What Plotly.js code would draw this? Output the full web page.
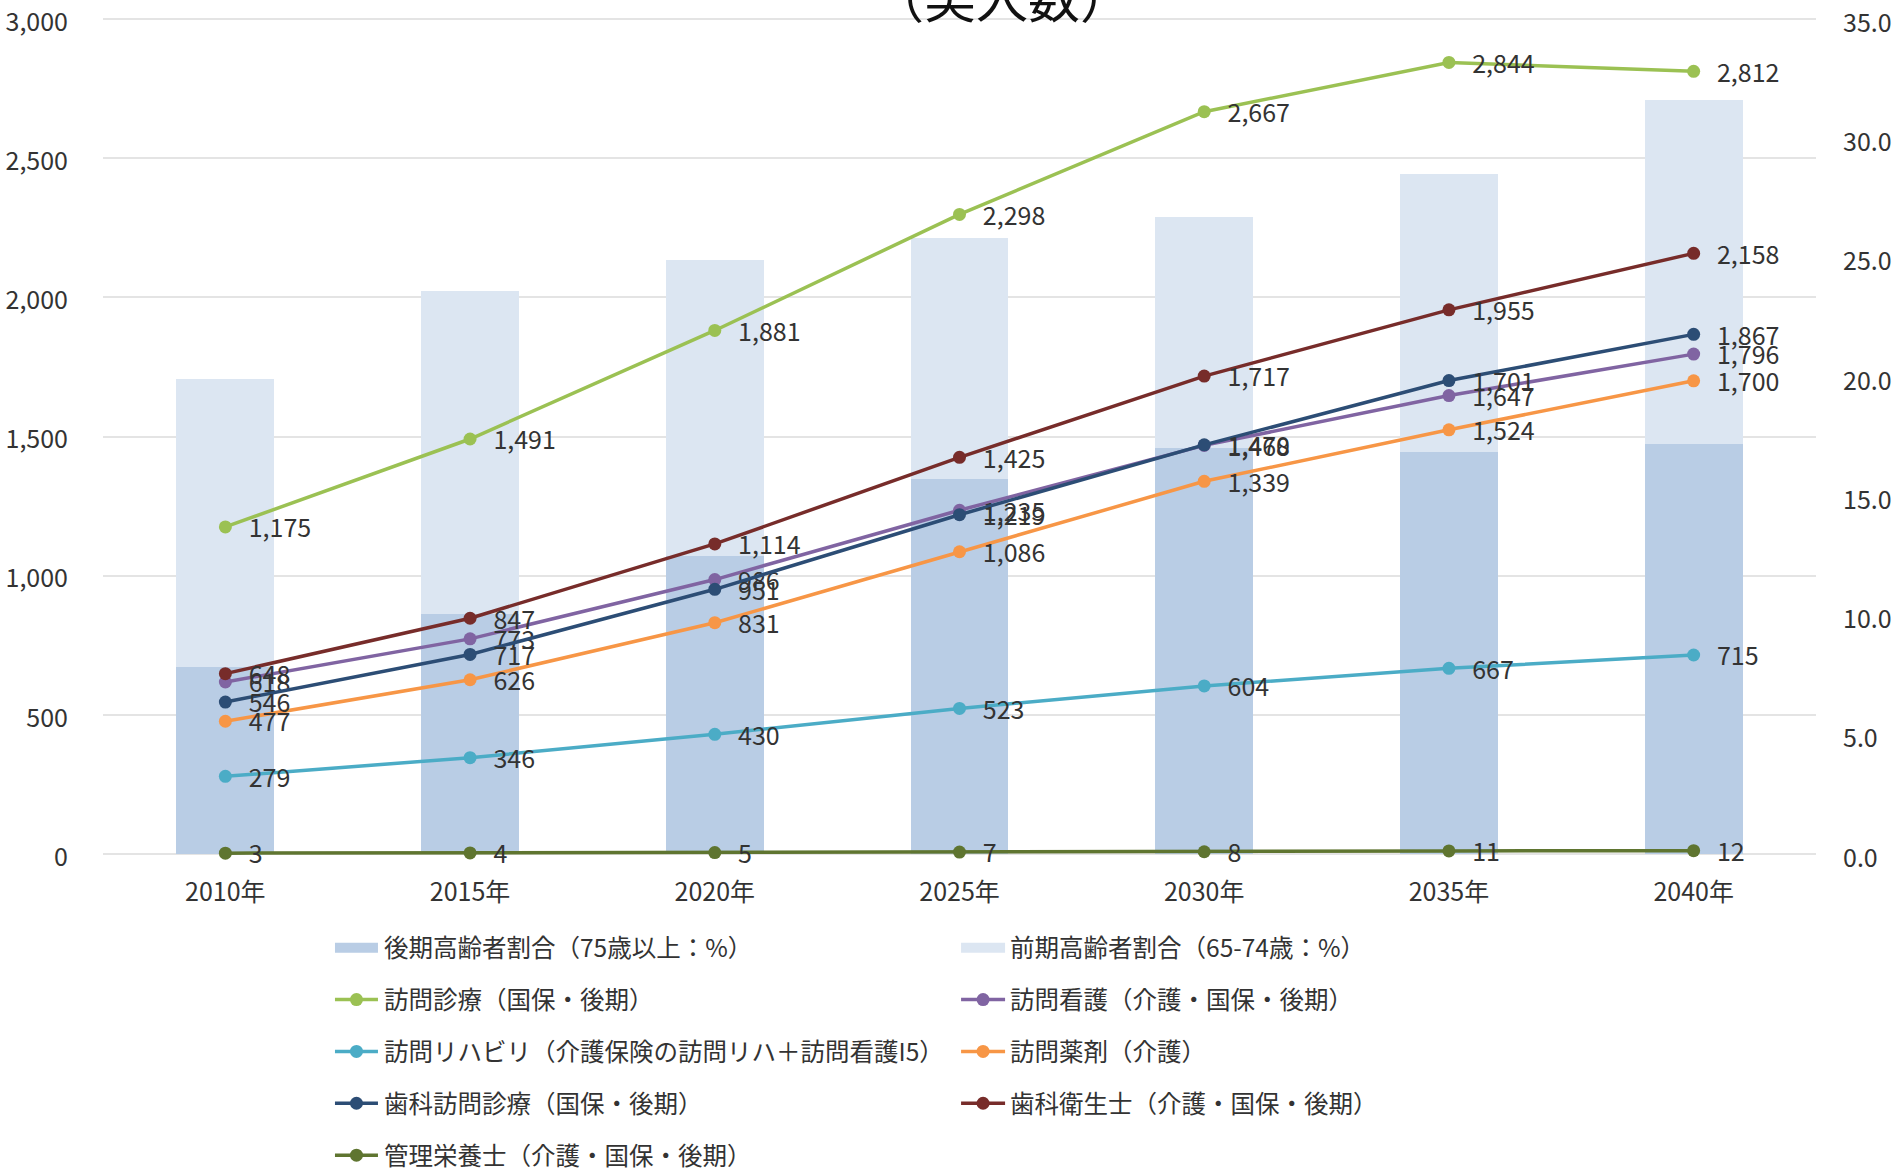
<!DOCTYPE html>
<html>
<head>
<meta charset="utf-8">
<script src="https://cdn.plot.ly/plotly-3.0.1.min.js"></script>
<style>html,body{margin:0;padding:0;background:#fff;}#chart{width:1895px;height:1168px;}</style>
</head>
<body>
<div id="chart"></div>
<script>
const years = ["2010年","2015年","2020年","2025年","2030年","2035年","2040年"];
const kouki = [7.85, 10.05, 12.5, 15.7, 17.0, 16.85, 17.2];
const zenki = [12.05, 13.55, 12.4, 10.1, 9.7, 11.65, 14.4];
const houmonShinryo = [1175, 1491, 1881, 2298, 2667, 2844, 2812];
const houmonKango = [618, 773, 986, 1235, 1468, 1647, 1796];
const houmonRiha = [279, 346, 430, 523, 604, 667, 715];
const houmonYakuzai = [477, 626, 831, 1086, 1339, 1524, 1700];
const shikaHoumon = [546, 717, 951, 1219, 1470, 1701, 1867];
const shikaEisei = [648, 847, 1114, 1425, 1717, 1955, 2158];
const kanriEiyo = [3, 4, 5, 7, 8, 11, 12];
const leftTicks = [0, 500, 1000, 1500, 2000, 2500, 3000];
const rightTicks = [0, 5, 10, 15, 20, 25, 30, 35];

const FONT = '"Noto Sans CJK JP", "Noto Sans", sans-serif';
const TXT = '#333333';
// small padding beyond 0 and 3,000 so that the edge grid lines are kept by Plotly
const PAD = 7.186;
const LEFT_RANGE = [-PAD, 3000 + PAD];
const RIGHT_RANGE = [-PAD * 35 / 3000, (3000 + PAD) * 35 / 3000];

function line(name, y, color, legend) {
  return {
    type: 'scatter', mode: 'lines+markers+text', name: name, x: years, y: y,
    yaxis: 'y2', legend: legend, legendgroup: name,
    line: {color: color, width: 3.5}, marker: {color: color, size: 13},
    texttemplate: '\u00a0\u00a0%{y:,}', textposition: 'middle right',
    textfont: {family: FONT, size: 25, color: TXT}, cliponaxis: false
  };
}
function barLegend(name, color, legend) {
  return {type: 'scatter', mode: 'lines', name: name, x: [null], y: [null], yaxis: 'y',
    legend: legend, legendgroup: name, line: {color: color, width: 17}};
}

const data = [
  {type: 'bar', name: '後期高齢者割合（75歳以上：%）', x: years, y: kouki, yaxis: 'y',
   marker: {color: '#B9CDE5'}, width: 0.4, showlegend: false, hoverinfo: 'y'},
  {type: 'bar', name: '前期高齢者割合（65-74歳：%）', x: years, y: zenki, yaxis: 'y',
   marker: {color: '#DCE6F2'}, width: 0.4, showlegend: false, hoverinfo: 'y'},
  barLegend('後期高齢者割合（75歳以上：%）', '#B9CDE5', 'legend'),
  barLegend('前期高齢者割合（65-74歳：%）', '#DCE6F2', 'legend2'),
  line('訪問診療（国保・後期）', houmonShinryo, '#9BC153', 'legend'),
  line('訪問看護（介護・国保・後期）', houmonKango, '#8064A2', 'legend2'),
  line('訪問リハビリ（介護保険の訪問リハ＋訪問看護I5）', houmonRiha, '#4BACC6', 'legend'),
  line('訪問薬剤（介護）', houmonYakuzai, '#F79646', 'legend2'),
  line('歯科訪問診療（国保・後期）', shikaHoumon, '#2C4D75', 'legend'),
  line('歯科衛生士（介護・国保・後期）', shikaEisei, '#772C2A', 'legend2'),
  line('管理栄養士（介護・国保・後期）', kanriEiyo, '#5F7530', 'legend')
];

const legendBase = {
  orientation: 'v', traceorder: 'grouped', tracegroupgap: 17, itemwidth: 44,
  font: {family: FONT, size: 24.5, color: TXT}, bgcolor: 'rgba(0,0,0,0)',
  yanchor: 'top', xanchor: 'left', itemclick: false
};

const layout = {
  width: 1895, height: 1168,
  margin: {l: 103, r: 79, t: 17, b: 312, autoexpand: false},
  paper_bgcolor: '#fff', plot_bgcolor: '#fff',
  barmode: 'stack', showlegend: true,
  font: {family: FONT, size: 24, color: TXT},
  xaxis: {type: 'category', showgrid: false, showline: false, zeroline: false,
    ticks: '', tickfont: {family: FONT, size: 25, color: TXT}, ticklabelstandoff: 19},
  yaxis: {range: RIGHT_RANGE, tickvals: rightTicks, tickformat: '.1f', side: 'right',
    showgrid: false, zeroline: false, showline: false, ticks: '', ticklabeloverflow: 'allow',
    tickfont: {family: FONT, size: 25, color: TXT}, ticklabelstandoff: 26, ticklabelshift: 4},
  yaxis2: {range: LEFT_RANGE, tickvals: leftTicks, tickformat: ',',
    overlaying: 'y', side: 'left', ticklabeloverflow: 'allow',
    showgrid: true, gridcolor: '#E4E4E4', gridwidth: 2, zeroline: false, showline: false, ticks: '',
    tickfont: {family: FONT, size: 25, color: TXT}, ticklabelstandoff: 34, ticklabelshift: 3},
  legend: Object.assign({}, legendBase, {x: 0.1325, y: -0.0826}),
  legend2: Object.assign({}, legendBase, {x: 0.498, y: -0.0826}),
  annotations: [{text: '（実人数）', xref: 'paper', yref: 'paper', x: 0.525, y: 0.9783,
    xanchor: 'center', yanchor: 'bottom', showarrow: false,
    font: {family: FONT, size: 52, color: '#111'}}]
};

Plotly.newPlot('chart', data, layout, {displayModeBar: false, responsive: false}).then(function (gd) {
  // lengthen legend keys to match the reference's wider keys
  gd.querySelectorAll('.legend .legendlines path').forEach(function (p) {
    p.setAttribute('d', 'M5,0h43');
  });
  gd.querySelectorAll('.legend .legendpoints path.scatterpts').forEach(function (p) {
    p.setAttribute('transform', 'translate(26.5,0)');
  });
  // data labels sit slightly right of and below the marker centre, as in the reference
  gd.querySelectorAll('.scatterlayer .textpoint text').forEach(function (t) {
    t.setAttribute('transform', 'translate(3,4)');
  });
});
</script>
</body>
</html>
